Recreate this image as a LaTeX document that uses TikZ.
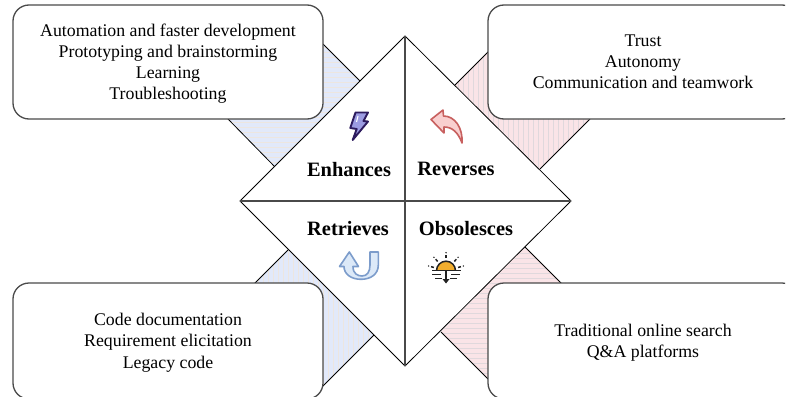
\documentclass[tikz,border=0pt]{standalone}
\usepackage{fontspec}
\setmainfont{Liberation Serif}
\newcommand{\firstdown}{\rule{0pt}{15.5pt}}
\definecolor{bluefill}{HTML}{E2E9FA}
\definecolor{bluehatch}{HTML}{EDE6E0}
\definecolor{pinkfill}{HTML}{FAE4E7}
\definecolor{pinkhatch}{HTML}{E0D8DC}
\definecolor{boxline}{HTML}{4A4A4A}
\definecolor{ubl}{HTML}{7C9CCB}
\definecolor{sunink}{HTML}{222222}
\definecolor{boltink}{HTML}{2D1B5E}
\definecolor{boltfill}{HTML}{9C9CE2}
\definecolor{revink}{HTML}{C8605F}
\definecolor{revfill}{HTML}{F9CFCF}
\definecolor{ufill}{HTML}{DCE9F8}
\definecolor{sunfill}{HTML}{F2AE2E}
\tikzset{
  band/.style={draw=black,line width=0.8pt},
  itembox/.style={draw=boxline,fill=white,line width=1.3pt,rounded corners=16pt,minimum width=310pt,minimum height=114pt,align=center,font=\fontsize{17.8}{21.2}\selectfont,inner sep=0pt},
  title/.style={font=\fontsize{20.4}{24}\selectfont\bfseries,inner sep=0pt},
  quarter/.style={draw=black,line width=0.8pt},
  axisline/.style={draw=boxline,line width=1.1pt},
  hatch/.style={line width=0.7pt},
  sunline/.style={sunink,line width=1.5pt}
}
\begin{document}
\begin{tikzpicture}[x=1pt,y=-1pt]
\useasboundingbox (0,0) rectangle (786,396);
\fill[white] (0,0) rectangle (786,396);
\clip (0,0) rectangle (785,396);
% bands
\begin{scope}
\path[clip] (360,81) -- (323,44) -- (228,119) -- (275,167) -- cycle;
\fill[bluefill] (220,30) rectangle (370,180);
\foreach \y in {42,47,...,170} \draw[bluehatch,hatch] (220,\y) -- (370,\y);
\end{scope}
\draw[band] (323,44) -- (360,81);
\draw[band] (228,119) -- (275,167);
\begin{scope}
\path[clip] (455,85) -- (490,50) -- (590,119) -- (540,169) -- cycle;
\fill[pinkfill] (450,40) rectangle (595,175);
\foreach \x in {453,458,...,595} \draw[pinkhatch,hatch] (\x,40) -- (\x,175);
\end{scope}
\draw[band] (455,85) -- (490,50);
\draw[band] (590,119) -- (540,169);
\begin{scope}
\path[clip] (288,250) -- (254,284) -- (323,386) -- (374,335) -- cycle;
\fill[bluefill] (250,245) rectangle (380,390);
\foreach \x in {253,258,...,380} \draw[bluehatch,hatch] (\x,245) -- (\x,390);
\end{scope}
\draw[band] (288,250) -- (254,284);
\draw[band] (374,335) -- (323,386);
\begin{scope}
\path[clip] (525,247) -- (563,285) -- (488,379) -- (441,332) -- cycle;
\fill[pinkfill] (435,240) rectangle (570,385);
\foreach \y in {243,248,...,385} \draw[pinkhatch,hatch] (435,\y) -- (570,\y);
\end{scope}
\draw[band] (525,247) -- (563,285);
\draw[band] (441,332) -- (488,379);
% boxes
\node[itembox] (enh) at (168,62) {\firstdown Automation and faster development\\Prototyping and brainstorming\\Learning\\Troubleshooting};
\node[itembox] (rev) at (643,62) {Trust\\Autonomy\\Communication and teamwork};
\node[itembox,minimum height=116pt] (ret) at (168,341) {\firstdown Code documentation\\Requirement elicitation\\Legacy code};
\node[itembox,minimum height=116pt] (obs) at (643,341) {\firstdown Traditional online search\\Q\&A platforms};
% diamond
\coordinate (T) at (405,36);
\coordinate (L) at (240,201);
\coordinate (R) at (571,201);
\coordinate (B) at (405,366);
\draw[quarter,fill=white] (T) -- (R) -- (B) -- (L) -- cycle;
\draw[axisline] (T) -- (B);
\draw[axisline] (L) -- (R);
% titles
\node[title] (tenh) at (349,169.5) {Enhances};
\node[title] (trev) at (456,169) {Reverses};
\node[title] (tret) at (348,229) {Retrieves};
\node[title] (tobs) at (466,229) {Obsolesces};
% bolt
\draw[draw=boltink,fill=boltfill,line width=1.9pt,line join=round]
  (355.5,112.5) -- (368,112.5) -- (363.5,121) -- (368,121.5) -- (352.7,140) -- (356.7,129) -- (350.3,128) -- cycle;
\draw[white,line width=1.1pt] (358,116) -- (356.5,122);
% reverse arrow
\draw[draw=revink,fill=revfill,line width=1.6pt,line join=round]
  (431,119.5) -- (443,110) -- (443.5,116) .. controls (455,116) and (463,128) .. (462,143) .. controls (458,132) and (452,127) .. (444,127) -- (444,133) -- cycle;
% retrieve arrow
\draw[draw=ubl,fill=ufill,line width=1.6pt,line join=round]
  (349.3,252) -- (358.5,266.5) -- (353,266.5) .. controls (353,274) and (358,276) .. (362,276) .. controls (367,276) and (370,272) .. (370,265) -- (370,252) -- (378.3,252) -- (378.3,265) .. controls (378.3,274) and (371,279.3) .. (361,279.3) .. controls (351,279.3) and (344,274) .. (344,266.5) -- (339.5,266.5) -- cycle;
% sun
\fill[sunfill] (436.5,270.7) arc[start angle=180,end angle=0,radius=9.5pt] -- cycle;
\draw[sunline] (436.5,270.7) arc[start angle=180,end angle=0,radius=9.5pt];
\draw[sunline] (432,270.7) -- (461,270.7) (432,274.7) -- (441,274.7) (451,274.7) -- (460,274.7) (435,278.7) -- (441.5,278.7) (450,278.7) -- (457,278.7);
\draw[sunline] (446,270.7) -- (446,282);
\fill[sunink] (442.5,279) -- (449.5,279) -- (446,283.5) -- cycle;
\begin{scope}[shift={(446,270.7)}]
\foreach \a in {15,48,90,132,165}{
  \draw[sunline] (\a:12.5pt) -- (\a:15.5pt);
  \fill[sunink] (\a:18pt) circle[radius=0.8pt];
}
\end{scope}
\end{tikzpicture}
\end{document}
